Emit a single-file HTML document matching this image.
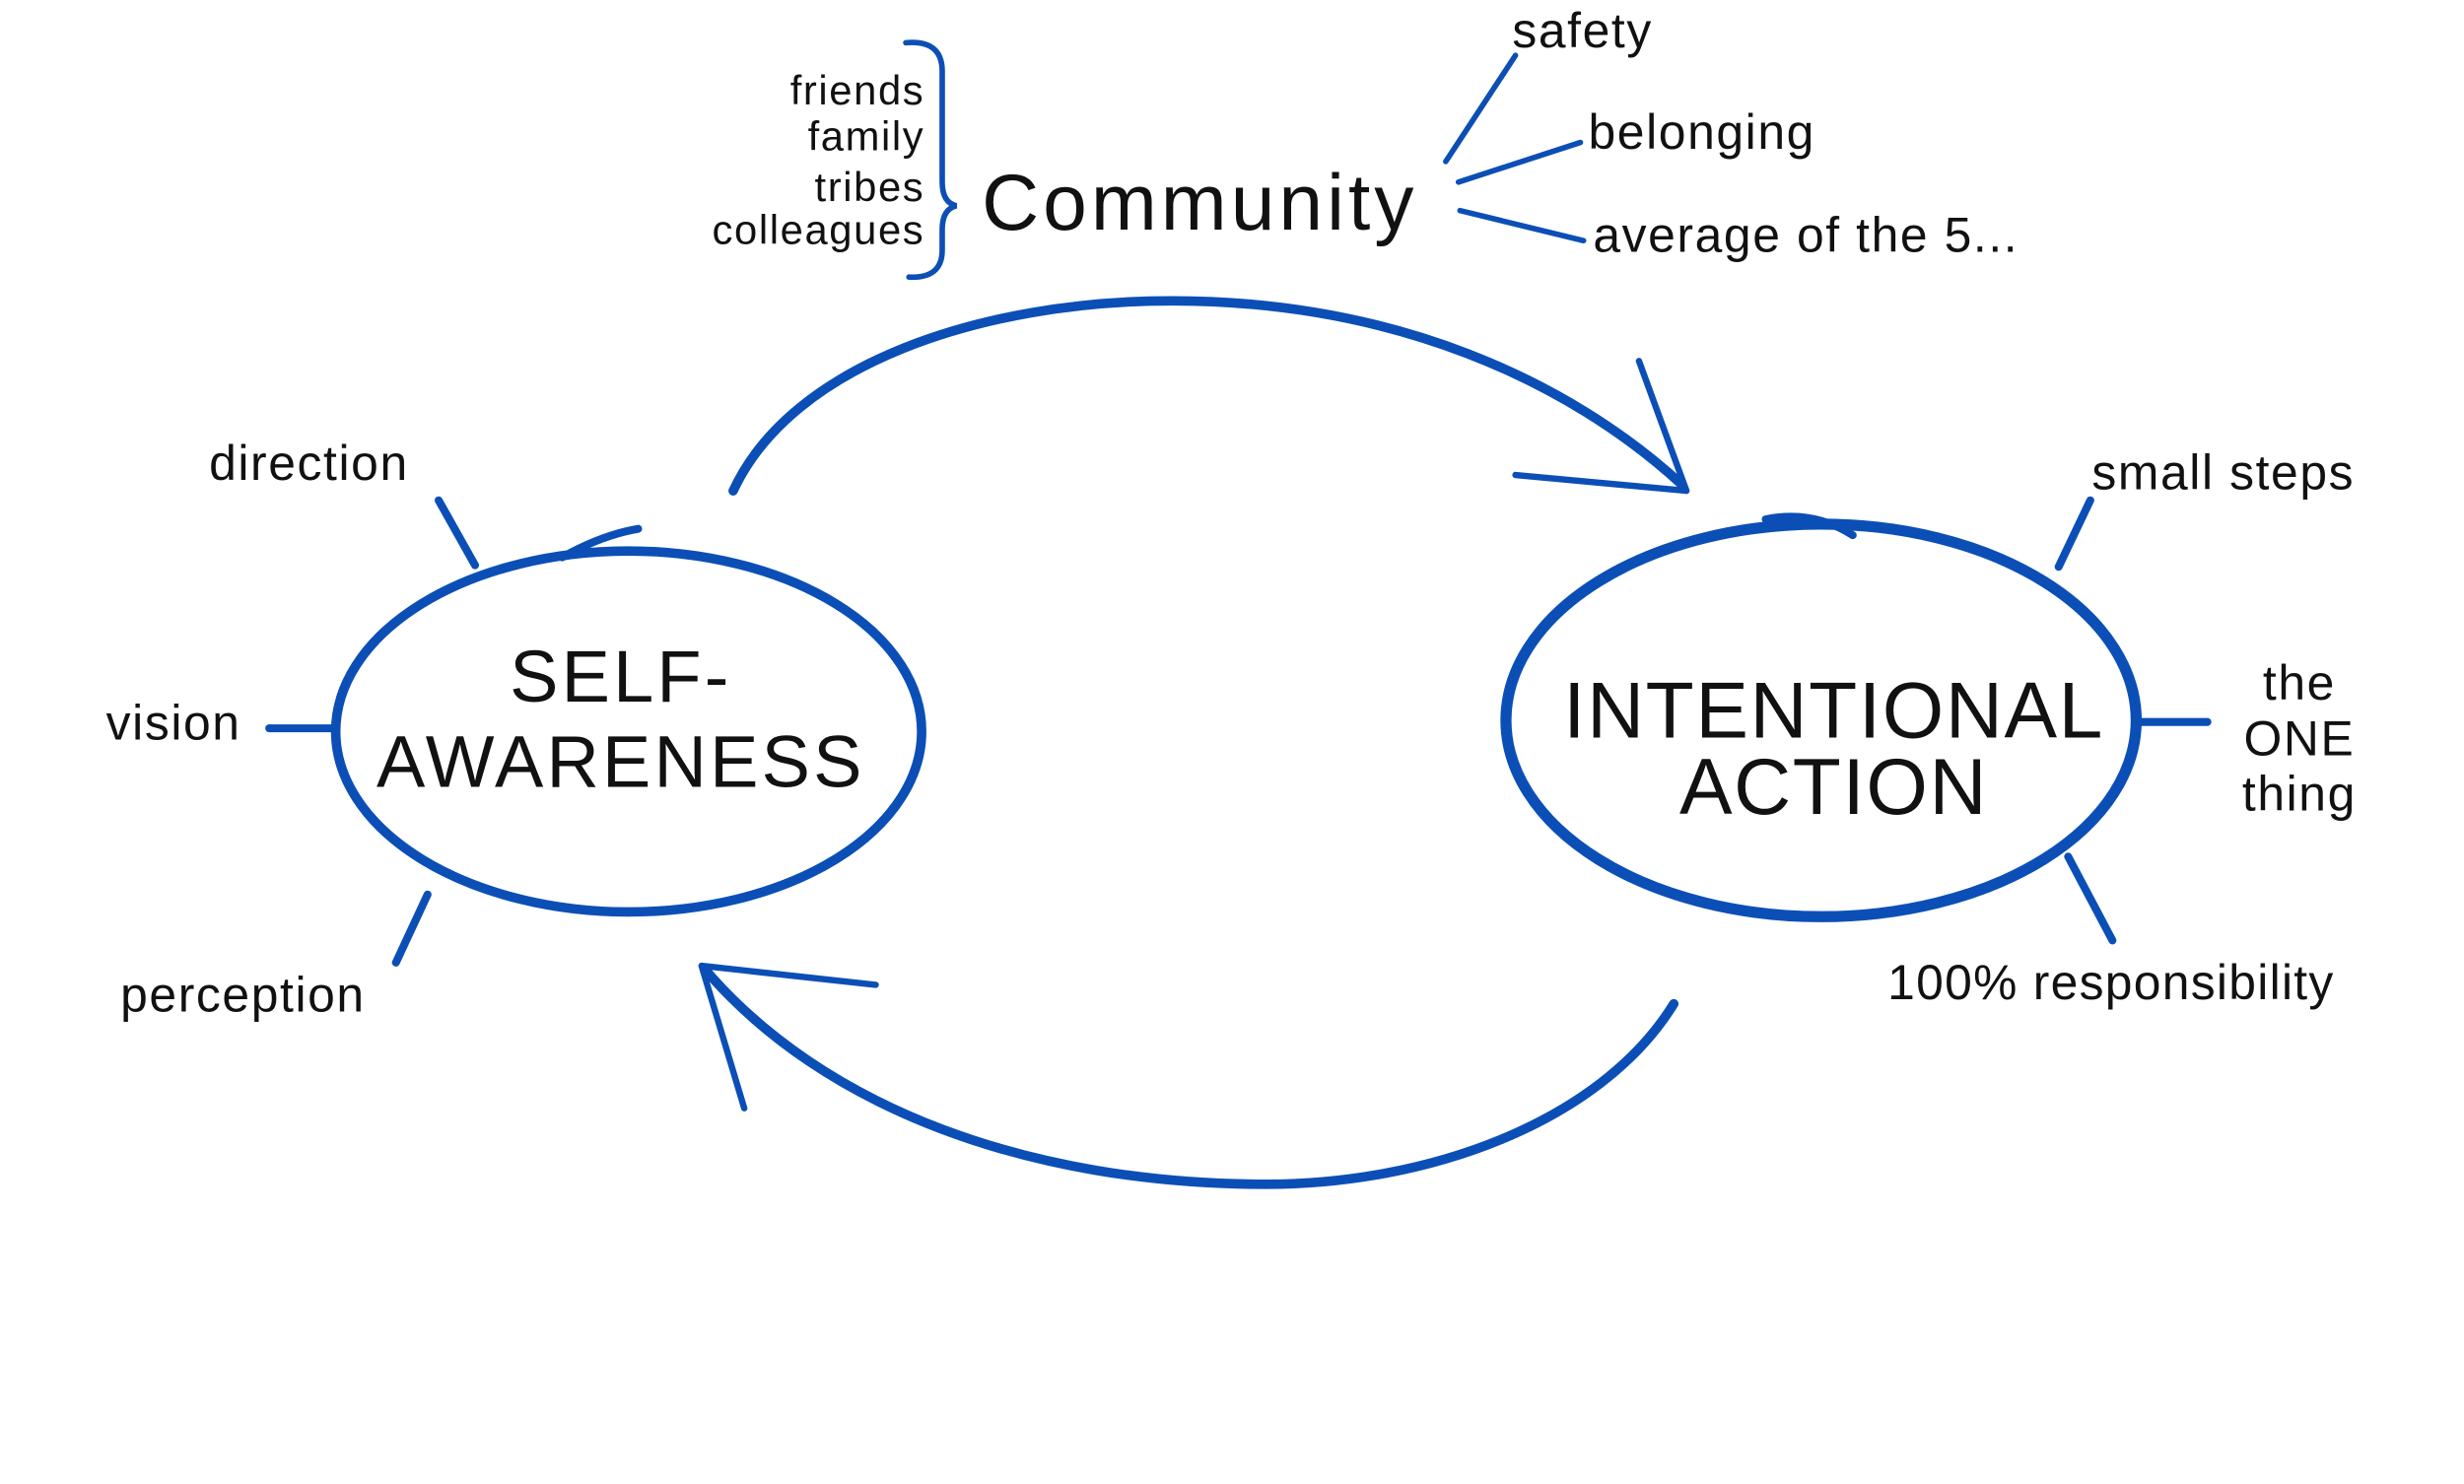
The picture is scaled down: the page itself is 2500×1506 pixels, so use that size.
<!DOCTYPE html>
<html><head><meta charset="utf-8"><style>
html,body{margin:0;padding:0;background:#fff;}
svg{display:block;}
text{font-family:"Liberation Sans","DejaVu Sans",sans-serif;fill:#111;}
</style></head><body>
<svg width="2500" height="1506" viewBox="0 0 1556 937.3" preserveAspectRatio="none" xmlns="http://www.w3.org/2000/svg">
<g fill="none" stroke="#0b4fb6" stroke-linecap="round">
 <ellipse cx="397" cy="462" rx="185" ry="114" stroke-width="6"/>
 <path d="M355 352 Q380 338 403 334" stroke-width="5"/>
 <ellipse cx="1150" cy="455" rx="199" ry="124" stroke-width="7"/>
 <path d="M1115 328 Q1145 322 1170 338" stroke-width="5"/>
 <path d="M463 310 C500 230 620 190 740 190 C880 190 990 240 1062 306" stroke-width="6"/>
 <path d="M1065 310 L1035 228 M1065 310 L957 300" stroke-width="4"/>
 <path d="M1057 634 C1010 710 900 748 800 748 C650 748 520 700 445 612" stroke-width="6"/>
 <path d="M443 610 L470 700 M443 610 L553 622" stroke-width="4"/>
 <path d="M277 316 L300 357 M170 460 L212 460 M270 565 L250 608" stroke-width="5"/>
 <path d="M1320 316 L1300 358 M1352 456 L1394 456 M1306 541 L1334 594" stroke-width="5"/>
 <path d="M913 102 L957 35 M921 115 L998 90 M922 133 L1000 152" stroke-width="3.5"/>
 <path d="M572 27 Q595 25 595 45 L595 115 Q595 128 604 130 Q595 132 595 145 L595 158 Q595 176 574 175" stroke-width="3.5"/>
</g>
<g font-size="46" text-anchor="middle" letter-spacing="2">
 <text x="392" y="443">SELF-</text>
 <text x="392" y="497">AWARENESS</text>
 <text x="1158" y="466" font-size="50" letter-spacing="1">INTENTIONAL</text>
 <text x="1158" y="514" font-size="50" letter-spacing="1">ACTION</text>
</g>
<text x="620" y="145" font-size="50" letter-spacing="2.5">Community</text>
<g font-size="26" text-anchor="end" letter-spacing="1">
 <text x="584" y="66">friends</text>
 <text x="584" y="95">family</text>
 <text x="584" y="127">tribes</text>
 <text x="584" y="154">colleagues</text>
</g>
<g font-size="31" letter-spacing="1">
 <text x="955" y="30">safety</text>
 <text x="1003" y="94">belonging</text>
 <text x="1006" y="159">average of the 5...</text>
 <text x="132" y="303">direction</text>
 <text x="67" y="467">vision</text>
 <text x="76" y="639">perception</text>
 <text x="1321" y="309">small steps</text>
 <text x="1192" y="631" letter-spacing="0.8">100% responsibility</text>
</g>
<g font-size="31" text-anchor="middle" letter-spacing="1">
 <text x="1452" y="442">the</text>
 <text x="1452" y="477">ONE</text>
 <text x="1452" y="512">thing</text>
</g>
</svg>
</body></html>
